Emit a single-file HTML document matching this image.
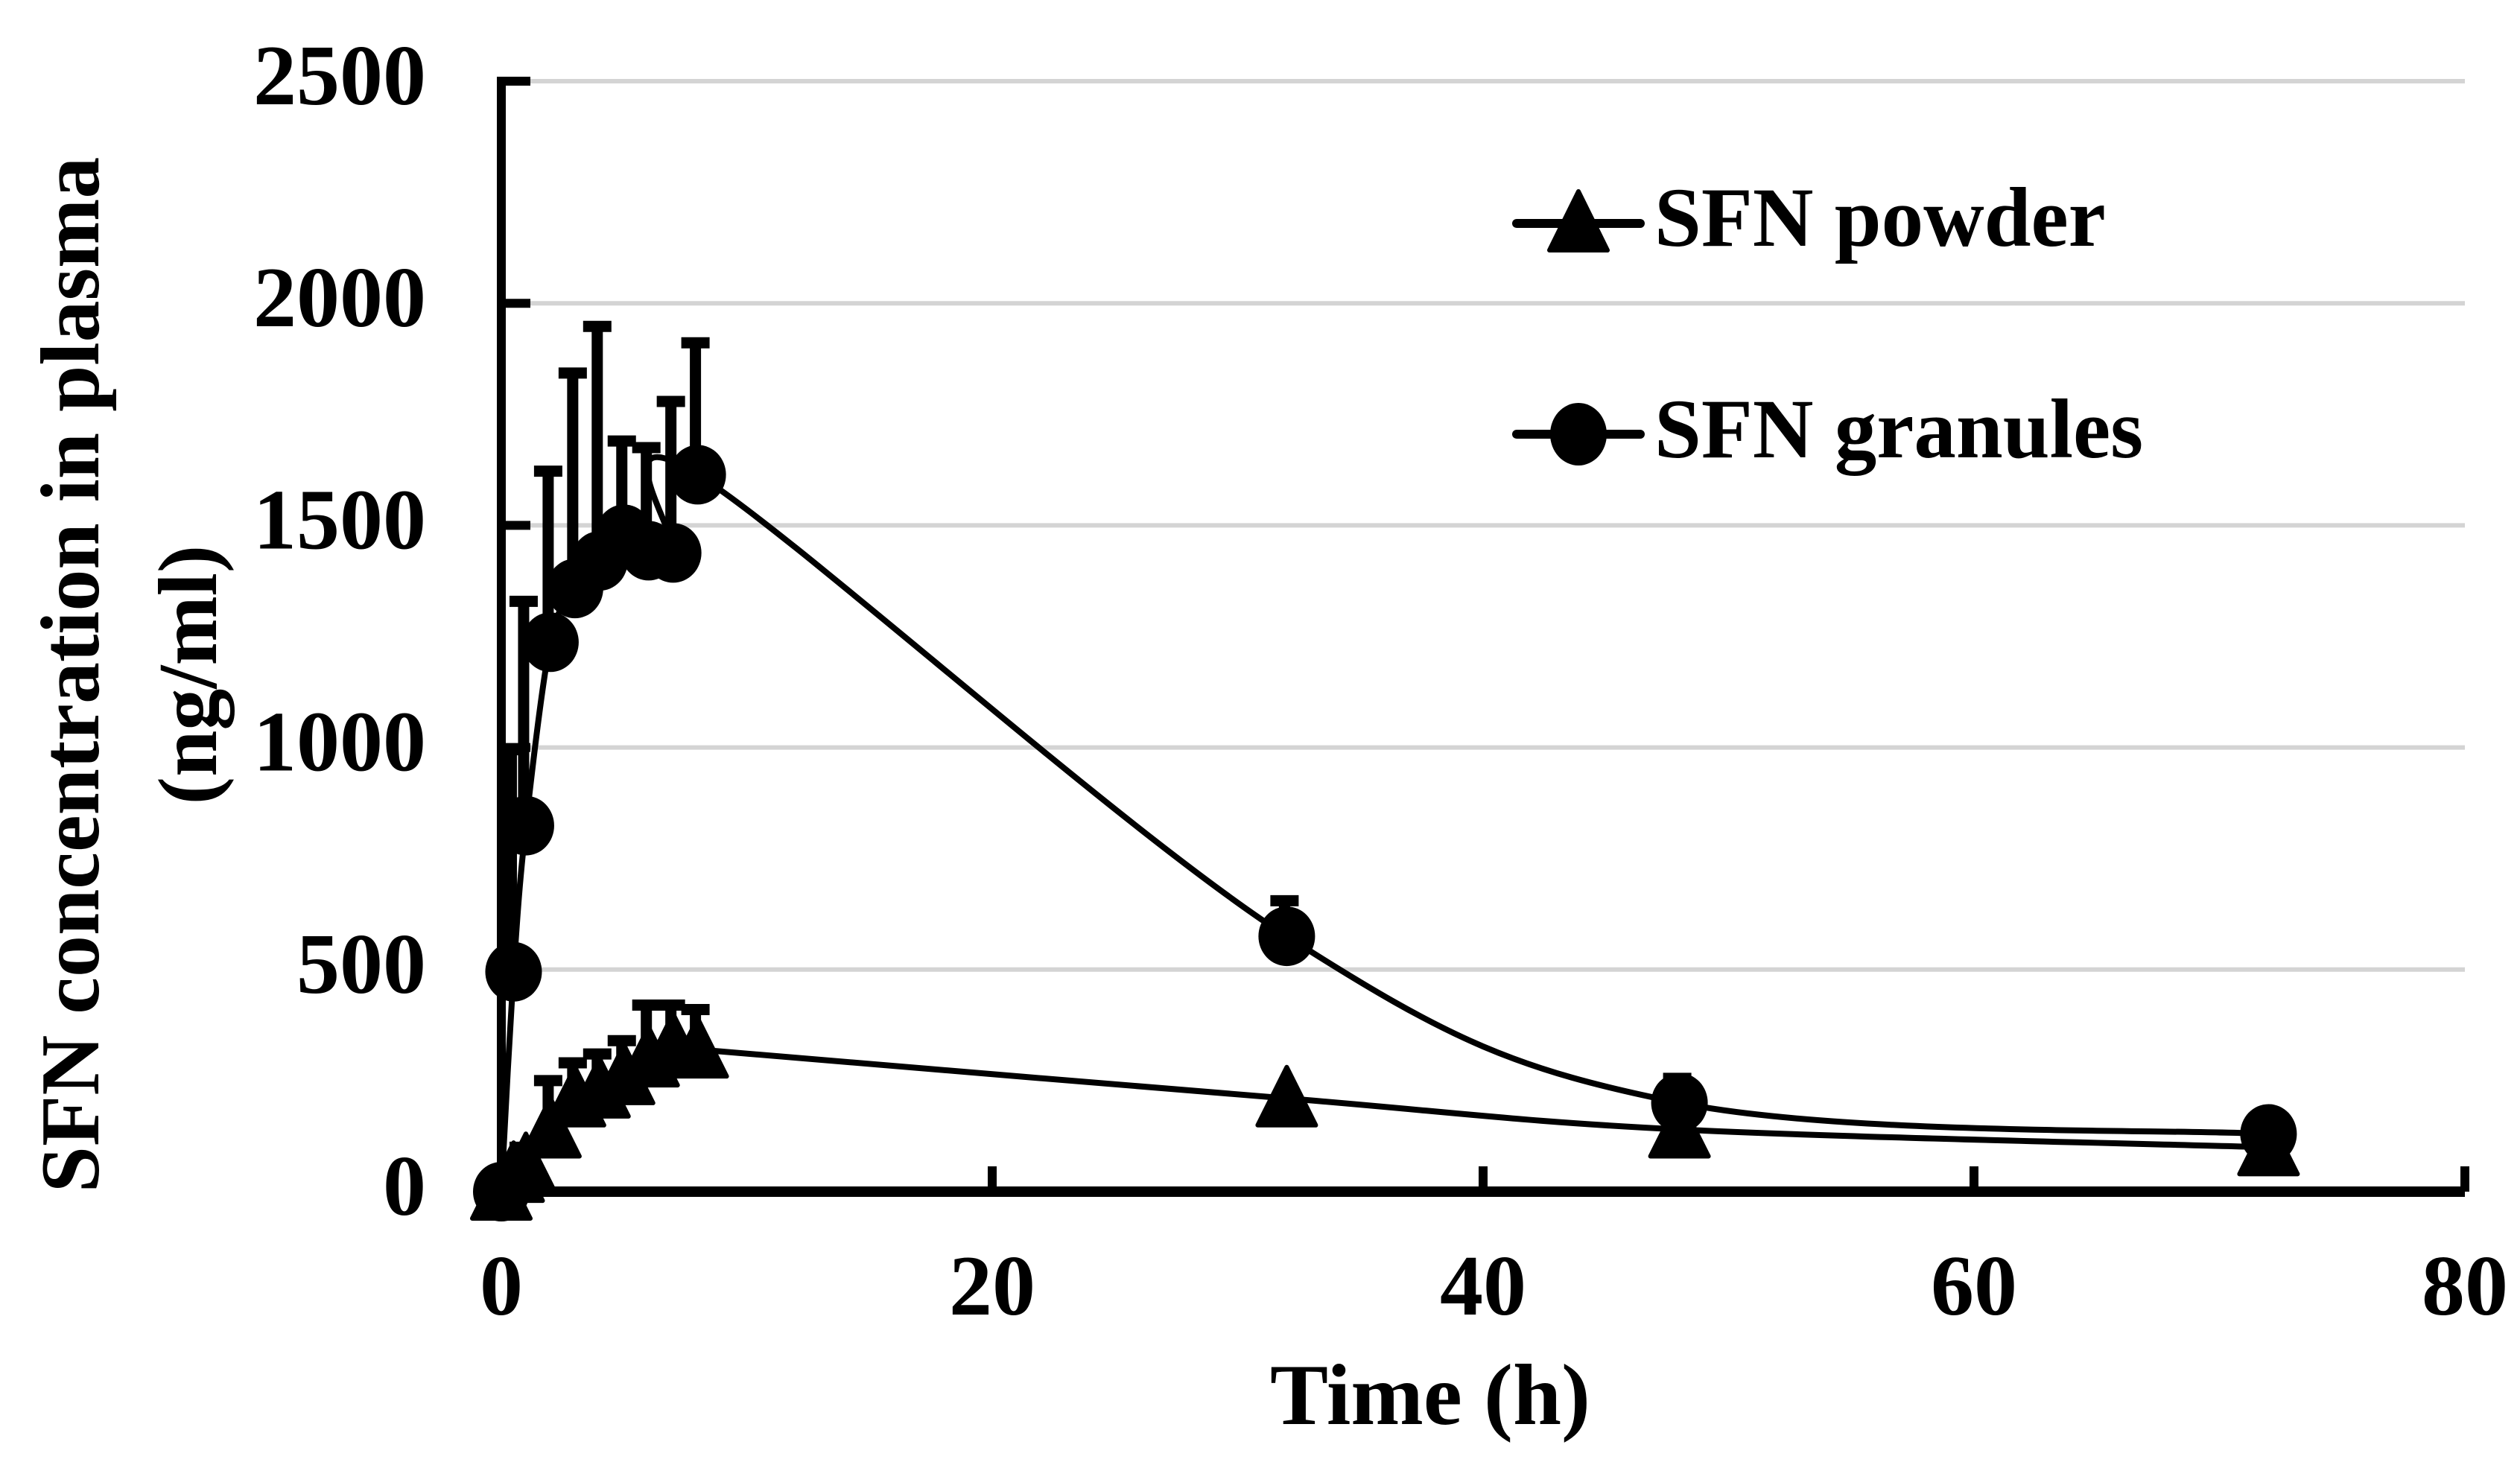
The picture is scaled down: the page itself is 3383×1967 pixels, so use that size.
<!DOCTYPE html>
<html><head><meta charset="utf-8"><style>
html,body{margin:0;padding:0;background:#fff;}
svg{display:block;}
text{font-family:"Liberation Serif",serif;font-weight:bold;fill:#000;}
</style></head><body>
<svg id="chart" width="3383" height="1967" viewBox="0 0 3383 1967" xmlns="http://www.w3.org/2000/svg">
<g id="grid"></g>
<g id="axes"></g>
<g id="series"></g>
<text x="1920" y="1912" font-size="117" text-anchor="middle">Time (h)</text>
<text transform="translate(132,906) rotate(-90)" font-size="112" text-anchor="middle">SFN concentration in plasma</text>
<text transform="translate(290,906) rotate(-90)" font-size="112" text-anchor="middle">(ng/ml)</text>
<g>
  <g>
    <line x1="2036" y1="300" x2="2202" y2="300" stroke="#000" stroke-width="12" stroke-linecap="round"/>
    <path d="M2119 257 L2158 336 L2080 336 Z" fill="#000" stroke="#000" stroke-width="6" stroke-linejoin="round"/>
    <text x="2221" y="330" font-size="113">SFN powder</text>
  </g>
  <g>
    <line x1="2036" y1="583" x2="2202" y2="583" stroke="#000" stroke-width="12" stroke-linecap="round"/>
    <ellipse cx="2119" cy="583" rx="38" ry="42" fill="#000"/>
    <text x="2221" y="614" font-size="113">SFN granules</text>
  </g>
</g>
</svg>
<script>
const times = [0, 0.5, 1, 2, 3, 4, 5, 6, 7, 8, 32, 48, 72];
const granules = [0, 495, 824, 1237, 1358, 1420, 1480, 1443, 1438, 1614, 575, 200, 130];
const granulesErr = [0, 500, 505, 385, 485, 528, 210, 232, 341, 297, 80, 55, 20];
const powder = [0, 40, 60, 140, 210, 230, 260, 300, 330, 320, 210, 140, 100];
const powderErr = [0, 30, 40, 110, 80, 80, 80, 120, 90, 90, 0, 0, 0];
const yTicks = [0, 500, 1000, 1500, 2000, 2500];
const xTicks = [0, 20, 40, 60, 80];

const X0 = 673, X1 = 3309, Y0 = 1600, Y1 = 109;
const xs = t => X0 + (X1 - X0) * t / 80;
const ys = v => Y0 - (Y0 - Y1) * v / 2500;
const NS = 'http://www.w3.org/2000/svg';
function mk(tag, attrs, parent) {
  const e = document.createElementNS(NS, tag);
  for (const k in attrs) e.setAttribute(k, attrs[k]);
  parent.appendChild(e);
  return e;
}
const grid = document.getElementById('grid');
const axes = document.getElementById('axes');
const series = document.getElementById('series');

yTicks.forEach(v => {
  if (v > 0) {
    const g = mk('line', {x1: X0, x2: X1, y1: ys(v), y2: ys(v), stroke: '#d4d4d4', 'stroke-width': 6}, grid);
    
    
  }
  const tk = mk('line', {x1: X0, x2: X0 + 39, y1: ys(v), y2: ys(v), stroke: '#000', 'stroke-width': 12}, axes);
  
  
  const t = mk('text', {x: 572, y: ys(v) + 31, 'font-size': 116, 'text-anchor': 'end'}, axes);
  t.textContent = v;
  
  
});
xTicks.forEach(v => {
  const tk = mk('line', {x1: xs(v), x2: xs(v), y1: Y0, y2: Y0 - 34, stroke: '#000', 'stroke-width': 12}, axes);
  
  
  const t = mk('text', {x: xs(v), y: 1765, 'font-size': 116, 'text-anchor': 'middle'}, axes);
  t.textContent = v;
  
  
});
const ya = mk('line', {x1: X0, x2: X0, y1: Y1 - 6, y2: Y0 + 6, stroke: '#000', 'stroke-width': 12}, axes);


const xa = mk('line', {x1: X0 - 6, x2: X1, y1: Y0, y2: Y0, stroke: '#000', 'stroke-width': 14}, axes);



function smooth(pts) {
  let d = `M${pts[0][0]},${pts[0][1]}`;
  for (let i = 0; i < pts.length - 1; i++) {
    const p0 = pts[Math.max(0, i - 1)], p1 = pts[i], p2 = pts[i + 1], p3 = pts[Math.min(pts.length - 1, i + 2)];
    const k = 1 / 6;
    const c1 = [p1[0] + (p2[0] - p0[0]) * k, p1[1] + (p2[1] - p0[1]) * k];
    const c2 = [p2[0] - (p3[0] - p1[0]) * k, p2[1] - (p3[1] - p1[1]) * k];
    d += ` C${c1[0]},${c1[1]} ${c2[0]},${c2[1]} ${p2[0]},${p2[1]}`;
  }
  return d;
}
function drawSeries(vals, errs, name, marker) {
  const g = mk('g', {}, series);
  
  
  const pts = times.map((t, i) => [xs(t), ys(vals[i])]);
  const ln = mk('path', {d: smooth(pts), fill: 'none', stroke: '#000', 'stroke-width': 8}, g);
  
  
  times.forEach((t, i) => {
    if (errs[i] > 0) {
      const x = xs(t) - 3, top = ys(vals[i] + errs[i]);
      const eb = mk('path', {d: `M${x},${ys(vals[i])} L${x},${top} M${x - 19},${top} L${x + 19},${top}`, stroke: '#000', 'stroke-width': 15, fill: 'none'}, g);
      
      
    }
  });
  times.forEach((t, i) => {
    const x = xs(t), y = ys(vals[i]);
    let m;
    if (marker === 'circle') {
      m = mk('ellipse', {cx: x, cy: y, rx: 38, ry: 40, fill: '#000'}, g);
    } else {
      m = mk('path', {d: `M${x},${y - 42} L${x + 39},${y + 36} L${x - 39},${y + 36} Z`, fill: '#000', stroke: '#000', 'stroke-width': 6, 'stroke-linejoin': 'round'}, g);
    }
    
    
  });
}
drawSeries(powder, powderErr, 'powder', 'triangle');
drawSeries(granules, granulesErr, 'granules', 'circle');
</script>
</body></html>
